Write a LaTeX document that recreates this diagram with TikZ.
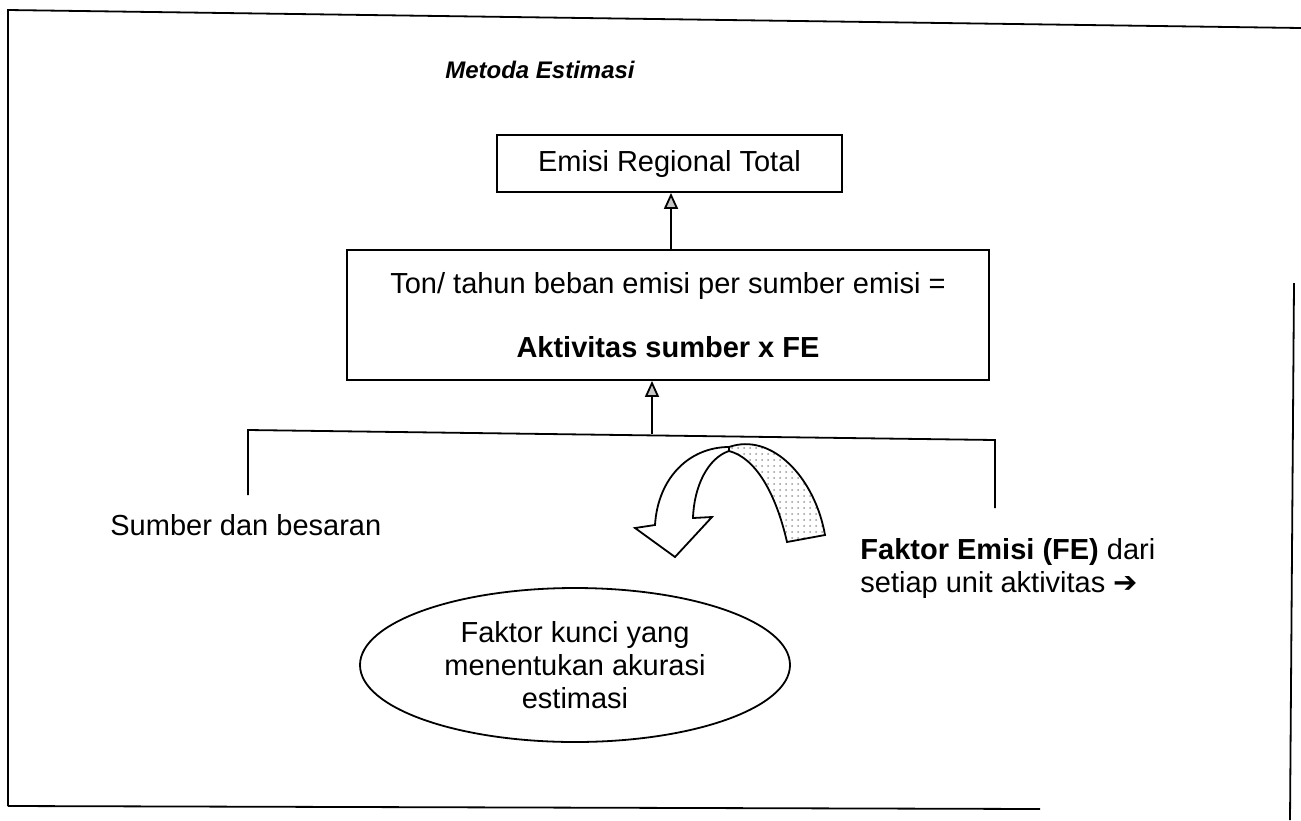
\documentclass[tikz,border=0pt]{standalone}
\usepackage{fontspec}
\setmainfont{Liberation Sans}
\newfontfamily\symfont{DejaVu Sans}
\usetikzlibrary{arrows.meta,positioning,shapes.geometric,patterns}
\tikzset{
  blk/.style={draw,line width=0.9pt,align=center,inner sep=0pt,
              font=\fontsize{14.5}{17}\selectfont},
  flow/.style={-{Triangle[length=8pt,width=7pt,fill=gray!45]},line width=0.9pt},
  rule/.style={line width=0.9pt},
  txt/.style={align=left,inner sep=0pt,font=\fontsize{14.5}{16.5}\selectfont},
  ovl/.style={draw,ellipse,line width=0.9pt,align=center,inner sep=0pt,
              font=\fontsize{14.5}{16.5}\selectfont},
}

\begin{document}
\begin{tikzpicture}[x=0.5pt,y=-0.5pt]
  \useasboundingbox (0,0) rectangle (1301,820);
  % bingkai hasil pindaian
  \draw[rule] (8,806) -- (8,10) -- (1301,28);
  \draw[rule] (8,806) -- (1040,809);
  \draw[rule] (1294,283) -- (1290,820);

  \node[font=\fontsize{12}{14}\selectfont\bfseries\itshape] (judul) at (540,70) {Metoda Estimasi};
  \node[blk,minimum width=172.5pt,minimum height=28.5pt] (total) at (669.5,163.5)
        {Emisi Regional Total};
  \node[blk,minimum width=321pt,minimum height=65pt] (beban) at (668,315)
        {Ton/ tahun beban emisi per sumber emisi =\\[15pt]\textbf{Aktivitas sumber x FE}};

  \coordinate (naik) at (671,0);
  \draw[flow] (beban.north -| naik) -- (total.south -| naik);

  % kurung pengumpul
  \coordinate (kiri) at (248,495);
  \coordinate (kanan) at (995,508);
  \coordinate (tengah) at (652,434);
  \draw[rule] (kiri) -- (248,430) -- (995,440) -- (kanan);
  \draw[flow] (tengah) -- (beban.south -| tengah);

  \node[txt,anchor=west] (sumber) at (110,525) {Sumber dan besaran};
  \node[txt,anchor=north west] (faktor) at (860,538)
        {\textbf{Faktor Emisi (FE)} dari\\setiap unit aktivitas {\symfont ➔}};

  % panah lengkung
  \draw[line width=0.9pt,pattern=dots,pattern color=gray!80]
    (729,447) .. controls (772,432) and (815,478) .. (825,535)
    -- (787,542) .. controls (776,494) and (756,458) .. (729,451) -- cycle;
  \draw[line width=0.9pt,fill=white]
    (729,447) .. controls (690,447) and (658,477) .. (655,525)
    -- (635,528) -- (675,557) -- (712,517) -- (693,518)
    .. controls (694,486) and (708,458) .. (729,451) -- cycle;

  \node[ovl,minimum width=215pt,minimum height=77pt] (kunci) at (575,665)
        {Faktor kunci yang\\menentukan akurasi\\estimasi};
\end{tikzpicture}
\end{document}
